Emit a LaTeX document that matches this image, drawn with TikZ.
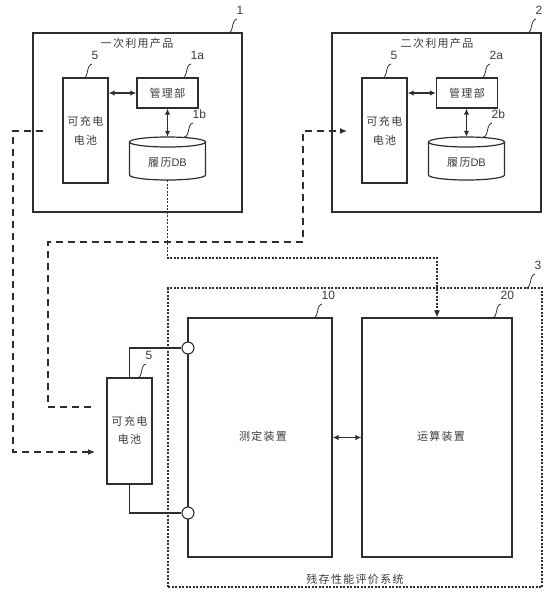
\documentclass[tikz,border=0pt]{standalone}
\usepackage{fontspec}
\setmainfont{Noto Sans CJK SC}
\newfontfamily\cjksp[LetterSpace=12]{Noto Sans CJK SC}
\newfontfamily\latinsf{Liberation Sans}
\usetikzlibrary{arrows.meta,calc}
\definecolor{ln}{HTML}{2E2E2E}
\definecolor{tx}{HTML}{3A3A3A}
\newcommand\leadcurve[4]{%
  \draw[lead] (#1,#2) .. controls ($(#1,#2)+(6,0)$) and ($(#1,#2)+(3,-13)$) .. ($(#1,#2)+(9,-14)$);
  \node[num,anchor=south west] (#4) at ($(#1,#2)+(8,-18)$) {#3};}
\begin{document}
\begin{tikzpicture}[x=1pt,y=-1pt,
  box/.style={draw=ln,line width=1.2pt,inner sep=0pt,text=tx,font=\cjksp\fontsize{11}{19}\selectfont,align=center},
  txt/.style={text=tx,inner sep=0pt,font=\cjksp\fontsize{11}{13}\selectfont},
  num/.style={text=tx,inner sep=0.5pt,font=\latinsf\fontsize{12}{13}\selectfont},
  lead/.style={draw=ln,line width=0.8pt},
  dbl/.style={draw=ln,line width=1.2pt,{Latex[length=6pt,width=5.5pt]}-{Latex[length=6pt,width=5.5pt]}},
  dashln/.style={draw=ln,line width=1.1pt,dash pattern=on 7pt off 5pt},
  dotln/.style={draw=ln,line width=1.1pt,dash pattern=on 2pt off 1.5pt},
  tip/.style={-{Latex[length=7pt,width=6pt]}},
  term/.style={circle,draw=ln,line width=1.1pt,fill=white,minimum size=12pt,inner sep=0pt}]
\useasboundingbox (0,0) rectangle (559,606);

% ---------- product 1 ----------
\node[box,minimum width=209pt,minimum height=179pt] (p1) at (137.5,122.5) {};
\node[txt] (p1t) at (137,43) {一次利用产品};
\node[box,minimum width=45pt,minimum height=105pt] (b1) at (85.5,130.5) {可充电\\电池};
\node[box,minimum width=61pt,minimum height=30pt] (m1) at (167.5,93) {管理部};
\node[inner sep=0pt,minimum width=76pt,minimum height=43pt] (db1) at (167.5,158.5) {};
\draw[ln,line width=1.2pt,fill=white] (129.5,142) -- (129.5,175) arc[start angle=180,end angle=0,x radius=38,y radius=5] -- (205.5,142);
\draw[ln,line width=1.2pt] (167.5,142) ellipse[x radius=38,y radius=5];
\node[txt] (db1t) at (167.5,163) {履历{\latinsf DB}};
\draw[dbl] (b1.east |- m1.west) -- (m1.west);
\draw[dbl] (m1.south) -- (db1.north);
\leadcurve{228}{33}{1}{l1}
\leadcurve{83}{78}{5}{l5a}
\leadcurve{182}{78}{1a}{l1a}
\leadcurve{184}{137}{1b}{l1b}

% ---------- product 2 ----------
\node[box,minimum width=209pt,minimum height=179pt] (p2) at (436.5,122.5) {};
\node[txt] (p2t) at (437,43) {二次利用产品};
\node[box,minimum width=45pt,minimum height=105pt] (b2) at (384.5,130.5) {可充电\\电池};
\node[box,minimum width=61pt,minimum height=30pt] (m2) at (467,93) {管理部};
\node[inner sep=0pt,minimum width=76pt,minimum height=43pt] (db2) at (466.5,158.5) {};
\draw[ln,line width=1.2pt,fill=white] (428.5,142) -- (428.5,175) arc[start angle=180,end angle=0,x radius=38,y radius=5] -- (504.5,142);
\draw[ln,line width=1.2pt] (466.5,142) ellipse[x radius=38,y radius=5];
\node[txt] (db2t) at (466.5,163) {履历{\latinsf DB}};
\draw[dbl] (b2.east |- m2.west) -- (m2.west);
\draw[dbl] (m2.south -| db2.north) -- (db2.north);
\leadcurve{527}{33}{2}{l2}
\leadcurve{382}{78}{5}{l5b}
\leadcurve{481}{78}{2a}{l2a}
\leadcurve{483}{137}{2b}{l2b}

% ---------- evaluation system ----------
\node[draw=ln,dotln,inner sep=0pt,minimum width=374pt,minimum height=299pt] (s3) at (355,437.5) {};
\node[txt] (s3t) at (355,579) {残存性能评价系统};
\node[box,minimum width=144pt,minimum height=239pt] (b10) at (260,437.5) {};
\node[txt] (b10t) at (263,436) {测定装置};
\node[box,minimum width=150pt,minimum height=239pt] (b20) at (437,437.5) {};
\node[txt] (b20t) at (441,436) {运算装置};
\draw[dbl] (b10.east) -- (b20.west);
\leadcurve{526}{288}{3}{l3}
\leadcurve{313}{318}{10}{l10}
\leadcurve{492}{318}{20}{l20}

% ---------- battery under test ----------
\node[box,minimum width=45pt,minimum height=106pt] (b3) at (129.5,431) {\raisebox{3pt}{\begin{tabular}{@{}c@{}}可充电\\[-1pt]电池\end{tabular}}};
\node[term] (c1) at (188,348) {};
\node[term] (c2) at (188,513) {};
\draw[ln,line width=1.2pt] (b3.north) |- (c1);
\draw[ln,line width=1.2pt] (b3.south) |- (c2);
\leadcurve{137}{378}{5}{l5c}

% ---------- flows ----------
\coordinate (d1s) at (43,131);
\coordinate (d1e) at (95,452);
\draw[dashln,tip] (d1s) -- (13,131) |- (d1e);
\coordinate (d2s) at (91,407);
\coordinate (d2e) at (347,131);
\draw[dashln,tip] (d2s) -- (48,407) |- (303,242) |- (d2e);
\coordinate (dturn) at (437,258);
\draw[dotln,tip] (db1.south) |- (dturn) -- (b20.north);
\end{tikzpicture}
\end{document}
